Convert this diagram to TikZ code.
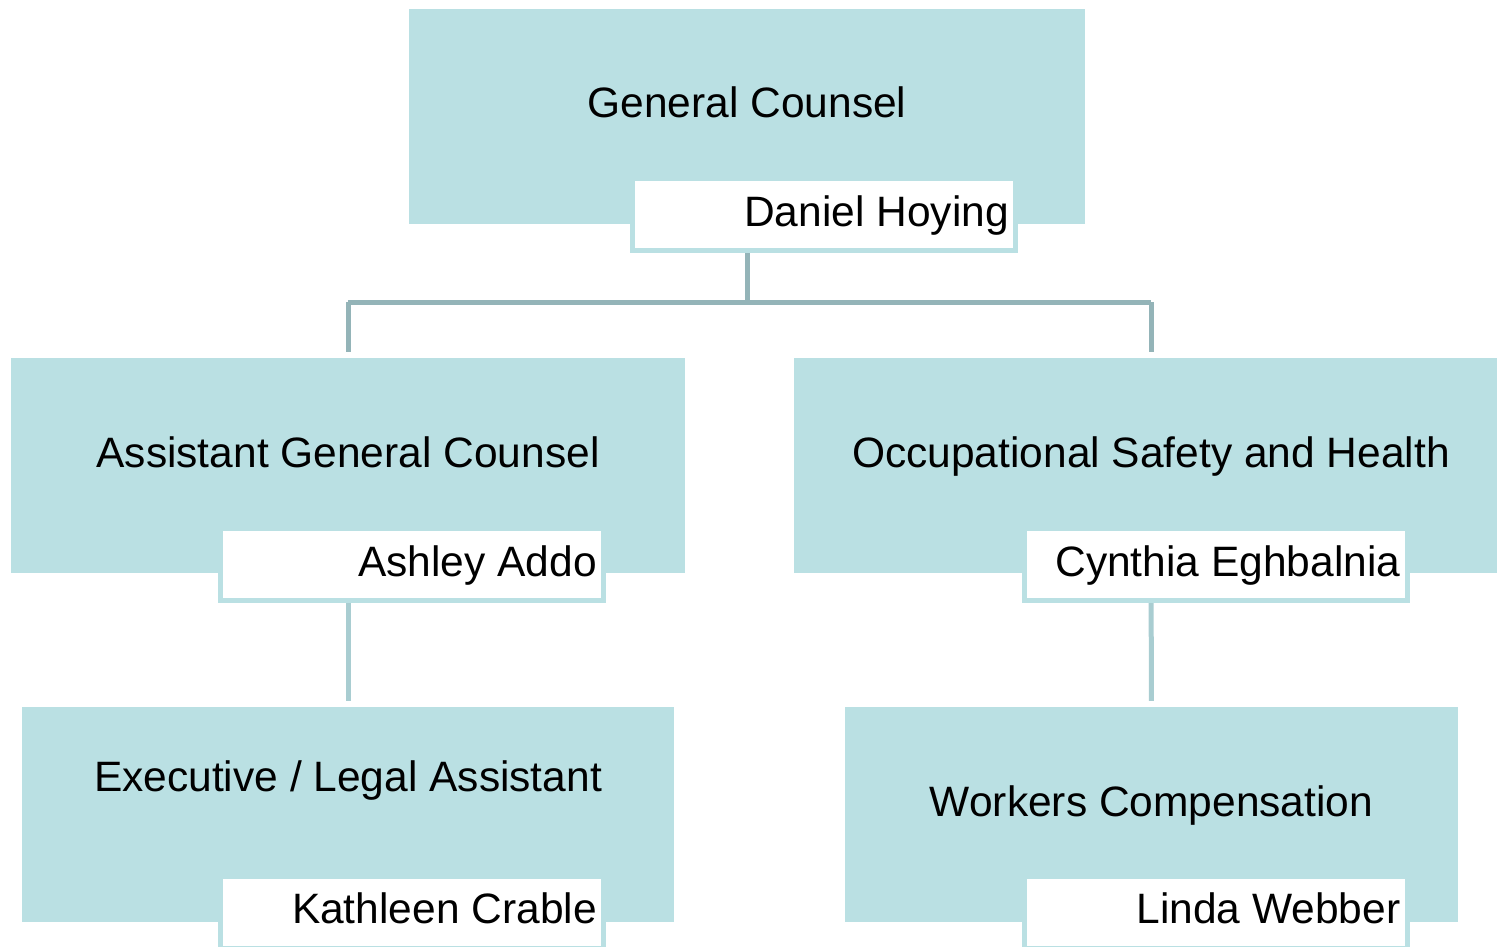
\documentclass[tikz,border=0pt]{standalone}
\usepackage{fontspec}
\setmainfont{Liberation Sans}
\usetikzlibrary{calc}
\definecolor{boxteal}{HTML}{BAE0E3}
\definecolor{linkdark}{HTML}{94B4B8}
\definecolor{linklight}{HTML}{A9CDD1}
\tikzset{
  mainbox/.style={fill=boxteal, draw=none, inner sep=0pt, minimum height=215pt},
  namebox/.style={fill=white, draw=boxteal, line width=5pt, inner sep=0pt, minimum width=383pt, minimum height=72pt},
  label/.style={inner sep=0pt, font=\fontsize{42.5}{50}\selectfont, text=black},
  toplink/.style={draw=linkdark, line width=5pt},
  sublink/.style={draw=linklight, line width=5pt}
}
\begin{document}
\begin{tikzpicture}[x=1pt,y=-1pt]
\useasboundingbox (0,0) rectangle (1497,947);
\clip (0,0) rectangle (1497,947);
% main boxes
\node[mainbox, minimum width=676pt] (gc) at (747,116.5) {};
\node[mainbox, minimum width=674pt] (agc) at (348,465.5) {};
\node[mainbox, minimum width=714pt] (osh) at (1151,465.5) {};
\node[mainbox, minimum width=652pt] (ea) at (348,814.5) {};
\node[mainbox, minimum width=613pt] (wc) at (1151.5,814.5) {};
% connectors
\coordinate (junction) at ($(gc.south)+(0,78)$);
\draw[toplink] (gc.south) -- (junction);
\draw[toplink, shorten >=6pt] (agc.north |- junction) -- (agc.north);
\draw[toplink] (agc.north |- junction) -- (osh.north |- junction);
\draw[toplink, shorten >=6pt] (osh.north |- junction) -- (osh.north);
\draw[sublink, shorten >=6pt] (agc.south) -- (ea.north);
\draw[sublink, shorten >=6pt] (osh.south) -- (wc.north);
% name boxes
\node[namebox] (gcn) at (824,214.5) {};
\node[namebox] (agcn) at (412,564) {};
\node[namebox] (oshn) at (1215.5,564) {};
\node[namebox] (ean) at (412,912.5) {};
\node[namebox] (wcn) at (1215.5,912.5) {};
% titles
\node[label, anchor=base] (gct) at ($(gc.center)+(0,1.5)$) {General Counsel};
\node[label, anchor=base] (agct) at ($(agc.center)+(0,1.5)$) {Assistant General Counsel};
\node[label, anchor=base] (osht) at ($(osh.center)+(0,1.5)$) {Occupational Safety and Health};
\node[label, anchor=base] (eat) at ($(ea.center)+(0,-23.5)$) {Executive / Legal Assistant};
\node[label, anchor=base] (wct) at ($(wc.center)+(0,1.5)$) {Workers Compensation};
% names
\node[label, anchor=base east] (gcp) at ($(gcn.east)+(-9,11.5)$) {Daniel Hoying};
\node[label, anchor=base east] (agcp) at ($(agcn.east)+(-9,12.5)$) {Ashley Addo};
\node[label, anchor=base east] (oshp) at ($(oshn.east)+(-9,12.5)$) {Cynthia Eghbalnia};
\node[label, anchor=base east] (eap) at ($(ean.east)+(-9,11)$) {Kathleen Crable};
\node[label, anchor=base east] (wcp) at ($(wcn.east)+(-9,11)$) {Linda Webber};
\end{tikzpicture}
\end{document}
